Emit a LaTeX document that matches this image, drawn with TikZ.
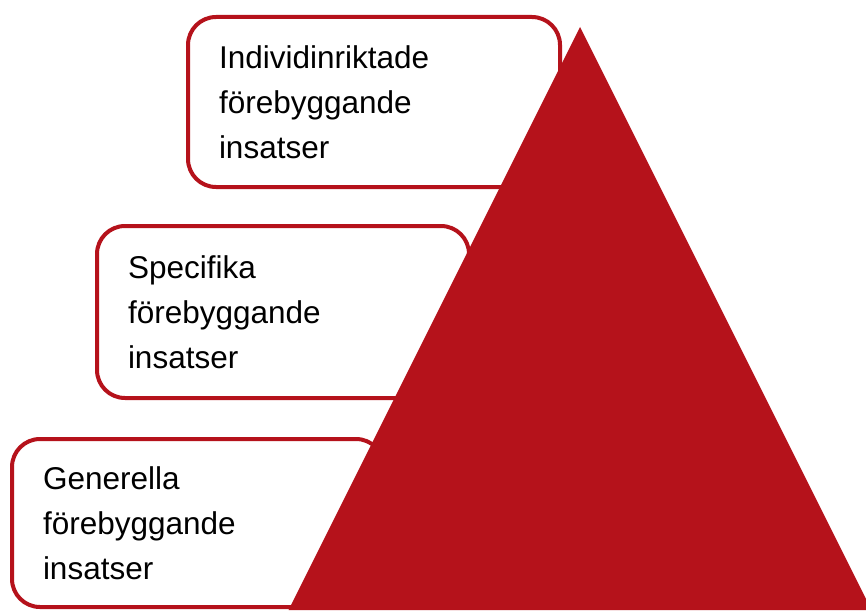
\documentclass[tikz,border=0pt]{standalone}
\usepackage{fontspec}
\setmainfont{Liberation Sans}
\usetikzlibrary{positioning}
\definecolor{pyrred}{HTML}{B5121B}
\tikzstyle{level} = [draw=pyrred,
line width=4pt,
rounded corners=28pt,
fill=white,
anchor=north west,
text width=310pt,
inner xsep=31pt,
align=left,
minimum height=170pt,
font=\fontsize{31.5}{45}\selectfont]

\begin{document}
\begin{tikzpicture}[x=1pt, y=-1pt]
	\useasboundingbox (0,0) rectangle (866,610);
	%% levels, top to bottom
	\node [level] (Individ) at (186,15) {Individinriktade\\förebyggande\\insatser};
	\node [level, minimum height=172pt] (Specifik) at (95,224) {Specifika\\förebyggande\\insatser};
	\node [level, minimum height=168pt] (Generell) at (10,437) {Generella\\förebyggande\\insatser};
	%% pyramid
	\begin{scope}
	\clip (0,0) rectangle (866,610);
	\fill [pyrred] (580,27) -- (871.5,610) -- (288.5,610) -- cycle;
	\end{scope}
\end{tikzpicture}
\end{document}
